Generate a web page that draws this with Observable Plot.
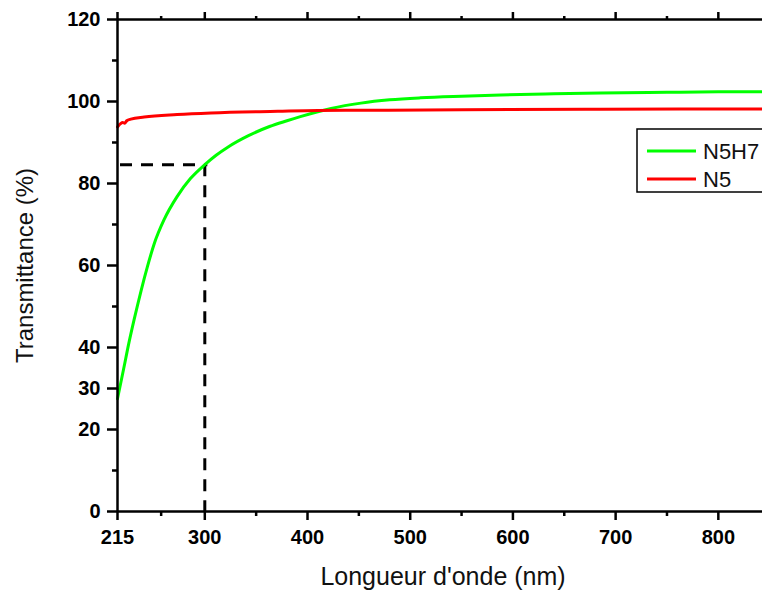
<!DOCTYPE html>
<html><head><meta charset="utf-8">
<script src="https://cdn.jsdelivr.net/npm/d3@7"></script>
<script src="https://cdn.jsdelivr.net/npm/@observablehq/plot@0.6"></script>
<style>
body{margin:0;background:#fff}
#chart{position:relative;width:762px;height:595px;overflow:hidden}
</style>
</head><body><div id="chart"></div>
<script>
const n5h7Wavelength = [215,221,226,231,238,244,251,260,273,286,300,311,322,342,363,380,393,410,423,452,480,510,550,588,640,685,750,800,843];
const n5h7Transmittance = [27.5,34.8,41,46.6,53.9,59.6,65.5,71.0,76.8,81.2,84.6,86.9,88.8,91.6,93.9,95.3,96.3,97.5,98.3,99.6,100.4,100.9,101.3,101.6,101.9,102.1,102.25,102.35,102.4];
const n5Wavelength = [215,218,220,222,224,228,241,273,306,371,410,452,550,685,843];
const n5Transmittance = [93.8,94.6,94.9,94.7,95.3,95.7,96.2,96.8,97.2,97.6,97.8,97.85,98.0,98.1,98.2];
const seriesNames = ["N5H7","N5"];
const seriesColors = ["#00ff00","#ff0000"];
const xTicks = [215,300,400,500,600,700,800];
const xMinorTicks = [257.5,350,450,550,650,750];
const yTicks = [0,20,30,40,60,80,100,120];
const yMinorTicks = [10,50,70,90,110];
const xDomain = [215,843];
const yDomain = [0,120];
const markerWavelength = 300;
const markerTransmittance = 84.6;
const xTitle = "Longueur d'onde (nm)";
const yTitle = "Transmittance (%)";

const rows = [
  ...n5h7Wavelength.map((w,i)=>({series:seriesNames[0], wavelength:w, transmittance:n5h7Transmittance[i]})),
  ...n5Wavelength.map((w,i)=>({series:seriesNames[1], wavelength:w, transmittance:n5Transmittance[i]}))
];

const font = "'Liberation Sans', Arial, Helvetica, sans-serif";
const blank = () => "";

const plot = Plot.plot({
  width: 762, height: 595,
  marginLeft: 117, marginRight: 0, marginTop: 19, marginBottom: 84,
  style: {fontFamily: font, background: "white", color: "black", overflow: "visible"},
  x: {domain: xDomain},
  y: {domain: yDomain},
  color: {domain: seriesNames, range: seriesColors},
  marks: [
    Plot.ruleY([markerTransmittance], {x1: xDomain[0], x2: markerWavelength, stroke: "black", strokeWidth: 3, strokeDasharray: "12,9", dx: 3}),
    Plot.ruleX([markerWavelength], {y1: markerTransmittance, y2: yDomain[0], stroke: "black", strokeWidth: 3, strokeDasharray: "12,9"}),
    Plot.line(rows, {x: "wavelength", y: "transmittance", z: "series", stroke: "series", strokeWidth: 3, curve: "monotone-x"}),
    Plot.axisX(xTicks, {anchor: "bottom", tickSize: 9, tickPadding: 9, strokeWidth: 2.5, fontSize: 20, fontWeight: "bold", tickFormat: d => String(d), label: null}),
    Plot.axisX(xMinorTicks, {anchor: "bottom", tickSize: 5, strokeWidth: 2.5, tickFormat: blank, label: null}),
    Plot.axisX(xTicks, {anchor: "top", tickSize: 8, strokeWidth: 2.5, tickFormat: blank, label: null}),
    Plot.axisX(xMinorTicks, {anchor: "top", tickSize: 4, strokeWidth: 2.5, tickFormat: blank, label: null}),
    Plot.axisY(yTicks, {anchor: "left", tickSize: 10, tickPadding: 7, strokeWidth: 2.5, fontSize: 20, fontWeight: "bold", tickFormat: d => String(d), label: null}),
    Plot.axisY(yMinorTicks, {anchor: "left", tickSize: 5, strokeWidth: 2.5, tickFormat: blank, label: null}),
    Plot.ruleY([yDomain[0], yDomain[1]], {stroke: "black", strokeWidth: 2.5}),
    Plot.ruleX([xDomain[0]], {stroke: "black", strokeWidth: 2.5}),
    Plot.text([xTitle], {frameAnchor: "bottom", textAnchor: "middle", dy: 73, dx: 3, fontSize: 25, fill: "#111"}),
    Plot.text([yTitle], {frameAnchor: "left", textAnchor: "middle", rotate: -90, dx: -92, fontSize: 24, fill: "#111"})
  ]
});

document.getElementById("chart").appendChild(plot);

// legend
const svg = d3.select(plot);
const lg = svg.append("g").attr("font-family", font).attr("text-anchor", "start");
lg.append("rect").attr("x", 637).attr("y", 129).attr("width", 200).attr("height", 63)
  .attr("fill", "white").attr("stroke", "black").attr("stroke-width", 1.5);
seriesNames.forEach((name, i) => {
  const cy = 151 + i * 28;
  lg.append("line").attr("x1", 647).attr("x2", 696).attr("y1", cy).attr("y2", cy)
    .attr("stroke", seriesColors[i]).attr("stroke-width", 3);
  lg.append("text").attr("x", 703).attr("y", cy + 8).attr("font-size", 22)
    .attr("text-anchor", "start").attr("fill", "#111").text(name);
});
</script>
</body></html>
